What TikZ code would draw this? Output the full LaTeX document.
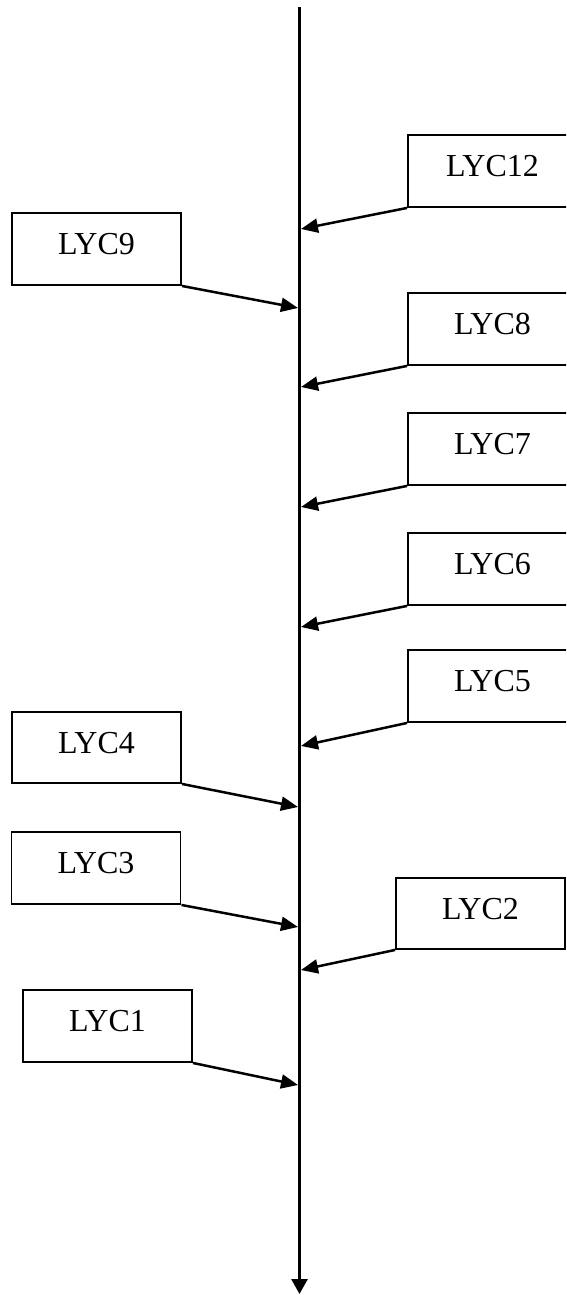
\documentclass[tikz,border=0pt]{standalone}
\usepackage{fontspec}
\setmainfont{Liberation Serif}
\usetikzlibrary{arrows.meta}
\begin{document}
\begin{tikzpicture}[x=1pt,y=-1pt,
  lycbox/.style={draw=black,line width=1.9pt,minimum width=169pt,minimum height=72pt,
    inner sep=0pt,text depth=10pt,font=\fontsize{32}{36}\selectfont},
  feed/.style={line width=2.5pt,-{Triangle[length=17pt,width=14pt]}},
  axis/.style={line width=2.7pt,-{Triangle[length=15pt,width=16pt]}}]
  \useasboundingbox (0,0) rectangle (566,1295);
  \clip (0,0) rectangle (566,1295);

  % main time axis
  \coordinate (top) at (299.5,7);
  \coordinate (bot) at (299.5,1294);
  \draw[axis] (top) -- (bot);

  % boxes on the right
  \node[lycbox] (b12) at (492.5,171) {LYC12};
  \node[lycbox] (b8)  at (492.5,329) {LYC8};
  \node[lycbox] (b7)  at (492.5,449) {LYC7};
  \node[lycbox] (b6)  at (492.5,569) {LYC6};
  \node[lycbox] (b5)  at (492.5,686) {LYC5};
  \node[lycbox,minimum height=71pt] (b2) at (480.5,913.5) {LYC2};

  % boxes on the left
  \node[lycbox] (b9) at (96.5,249) {LYC9};
  \node[lycbox,minimum height=71pt] (b4) at (96.5,747.5) {LYC4};
  \node[lycbox] (b3) at (96,868) {LYC3};
  \node[lycbox] (b1) at (107.5,1026) {LYC1};

  % entry points on the axis
  \coordinate (p12) at (301,229);
  \coordinate (p9)  at (298,308);
  \coordinate (p8)  at (301,387);
  \coordinate (p7)  at (301,507);
  \coordinate (p6)  at (301,627);
  \coordinate (p5)  at (301,746);
  \coordinate (p4)  at (298,807);
  \coordinate (p3)  at (298,927);
  \coordinate (p2)  at (301,970);
  \coordinate (p1)  at (298,1085);

  \draw[feed] (b12.south west) -- (p12);
  \draw[feed] (b8.south west)  -- (p8);
  \draw[feed] (b7.south west)  -- (p7);
  \draw[feed] (b6.south west)  -- (p6);
  \draw[feed] (b5.south west)  -- (p5);
  \draw[feed] (b2.south west)  -- (p2);
  \draw[feed] (b9.south east)  -- (p9);
  \draw[feed] (b4.south east)  -- (p4);
  \draw[feed] (b3.south east)  -- (p3);
  \draw[feed] (b1.south east)  -- (p1);
\end{tikzpicture}
\end{document}
